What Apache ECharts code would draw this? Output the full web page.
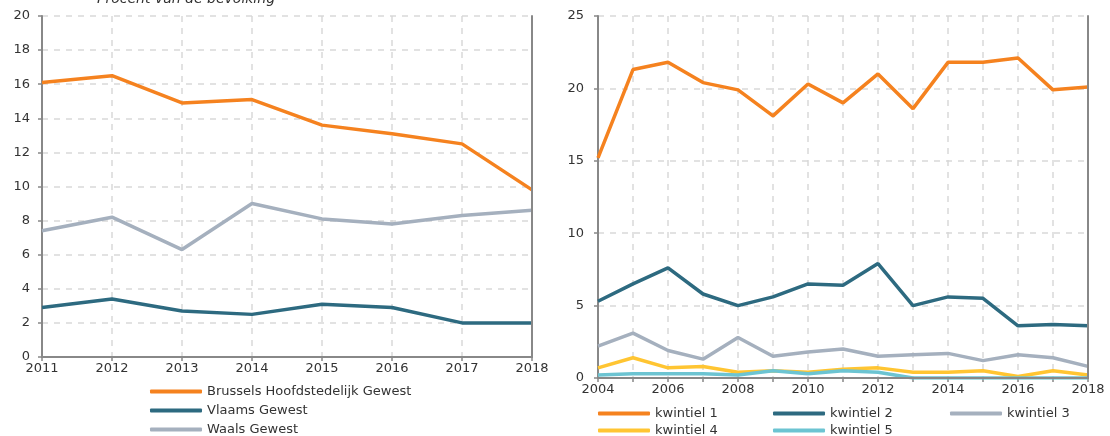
<!DOCTYPE html>
<html><head><meta charset="utf-8">
<script src="https://cdn.jsdelivr.net/npm/echarts@6/dist/echarts.min.js"></script>
<style>html,body{margin:0;padding:0;background:#fff}#c{width:1110px;height:436px}</style>
</head><body><div id="c"></div>
<script>
const leftYears = ['2011','2012','2013','2014','2015','2016','2017','2018'];
const brussels = [16.1, 16.5, 14.9, 15.1, 13.6, 13.1, 12.5, 9.8];
const vlaams   = [2.9, 3.4, 2.7, 2.5, 3.1, 2.9, 2.0, 2.0];
const waals    = [7.4, 8.2, 6.3, 9.0, 8.1, 7.8, 8.3, 8.6];

const rightYears = ['2004','2005','2006','2007','2008','2009','2010','2011','2012','2013','2014','2015','2016','2017','2018'];
const kw1 = [15.2, 21.3, 21.8, 20.4, 19.9, 18.1, 20.3, 19.0, 21.0, 18.6, 21.8, 21.8, 22.1, 19.9, 20.1];
const kw2 = [5.3, 6.5, 7.6, 5.8, 5.0, 5.6, 6.5, 6.4, 7.9, 5.0, 5.6, 5.5, 3.6, 3.7, 3.6];
const kw3 = [2.2, 3.1, 1.9, 1.3, 2.8, 1.5, 1.8, 2.0, 1.5, 1.6, 1.7, 1.2, 1.6, 1.4, 0.8];
const kw4 = [0.7, 1.4, 0.7, 0.8, 0.4, 0.5, 0.4, 0.6, 0.7, 0.4, 0.4, 0.5, 0.1, 0.5, 0.2];
const kw5 = [0.2, 0.3, 0.3, 0.3, 0.2, 0.5, 0.3, 0.5, 0.4, 0.0, 0.0, 0.0, 0.0, 0.0, 0.0];

const C_OR = '#F5821F', C_TE = '#2D6A80', C_GR = '#A5B0BE', C_YE = '#FFC532', C_LB = '#6CC4D2';
const FONT = 'DejaVu Sans';
const txt = {fontFamily: FONT, fontSize: 13, color: '#333'};
const AX = {color: '#888', width: 2};

function xAxis(gi, cats, labInt) {
  const n = cats.length;
  return {
    type: 'category', gridIndex: gi, data: cats, boundaryGap: false,
    axisLine: {lineStyle: AX},
    axisTick: {show: true, interval: 0, length: 4, lineStyle: {color: '#888', width: 1.5}},
    axisLabel: Object.assign({interval: labInt, margin: 5}, txt),
    splitLine: {show: true, interval: (i) => i > 0 && i < n - 1,
      lineStyle: {color: '#d9d9d9', type: [6, 6], width: 1.5}}
  };
}
function xTop(gi, cats) {
  return {type: 'category', gridIndex: gi, data: cats, boundaryGap: false, position: 'top', z: 5,
    axisLine: {lineStyle: AX}, axisTick: {show: false}, axisLabel: {show: false}, splitLine: {show: false}};
}
function yAxis(gi, max, interval, margin) {
  return {
    type: 'value', gridIndex: gi, min: 0, max: max, interval: interval,
    axisLine: {show: true, lineStyle: AX},
    axisTick: {show: true, length: 4, lineStyle: {color: '#888', width: 1.5}},
    axisLabel: Object.assign({margin: margin}, txt),
    splitLine: {show: true, lineStyle: {color: '#d9d9d9', type: [6, 6], width: 1.5}}
  };
}
function yRight(gi, max, interval) {
  return {type: 'value', gridIndex: gi, min: 0, max: max, interval: interval, position: 'right', z: 5,
    axisLine: {show: true, lineStyle: AX}, axisTick: {show: false}, axisLabel: {show: false}, splitLine: {show: false}};
}
function line(name, data, color, xi) {
  return {name: name, type: 'line', data: data, xAxisIndex: xi, yAxisIndex: xi, symbol: 'none',
    lineStyle: {color: color, width: 3.5}, itemStyle: {color: color}, z: 3};
}
function legend(names, left, top, gap) {
  return {data: names, orient: 'vertical', left: left, top: top, height: 120, itemGap: gap, padding: 0,
    itemWidth: 52, itemHeight: 4, icon: 'roundRect', textStyle: Object.assign({padding: [0,0,0,0]}, txt)};
}

const chart = echarts.init(document.getElementById('c'));
chart.setOption({
  animation: false,
  graphic: [{type: 'text', left: 97, top: -8, style: {text: 'Procent van de bevolking', font: 'italic 14px "DejaVu Sans"', fill: '#333'}}],
  grid: [
    {left: 42, top: 16, width: 490, height: 341},
    {left: 598, top: 16, width: 490, height: 362}
  ],
  xAxis: [xAxis(0, leftYears, 0), xAxis(1, rightYears, 1), xTop(0, leftYears), xTop(1, rightYears)],
  yAxis: [yAxis(0, 20, 2, 12), yAxis(1, 25, 5, 14), yRight(0, 20, 2), yRight(1, 25, 5)],
  legend: [
    legend(['Brussels Hoofdstedelijk Gewest', 'Vlaams Gewest', 'Waals Gewest'], 150, 385, 6),
    legend(['kwintiel 1', 'kwintiel 4'], 598, 407, 4),
    legend(['kwintiel 2', 'kwintiel 5'], 773, 407, 4),
    legend(['kwintiel 3'], 950, 407, 4)
  ],
  series: [
    line('Brussels Hoofdstedelijk Gewest', brussels, C_OR, 0),
    line('Vlaams Gewest', vlaams, C_TE, 0),
    line('Waals Gewest', waals, C_GR, 0),
    line('kwintiel 1', kw1, C_OR, 1),
    line('kwintiel 2', kw2, C_TE, 1),
    line('kwintiel 3', kw3, C_GR, 1),
    line('kwintiel 4', kw4, C_YE, 1),
    line('kwintiel 5', kw5, C_LB, 1)
  ]
});
</script></body></html>
